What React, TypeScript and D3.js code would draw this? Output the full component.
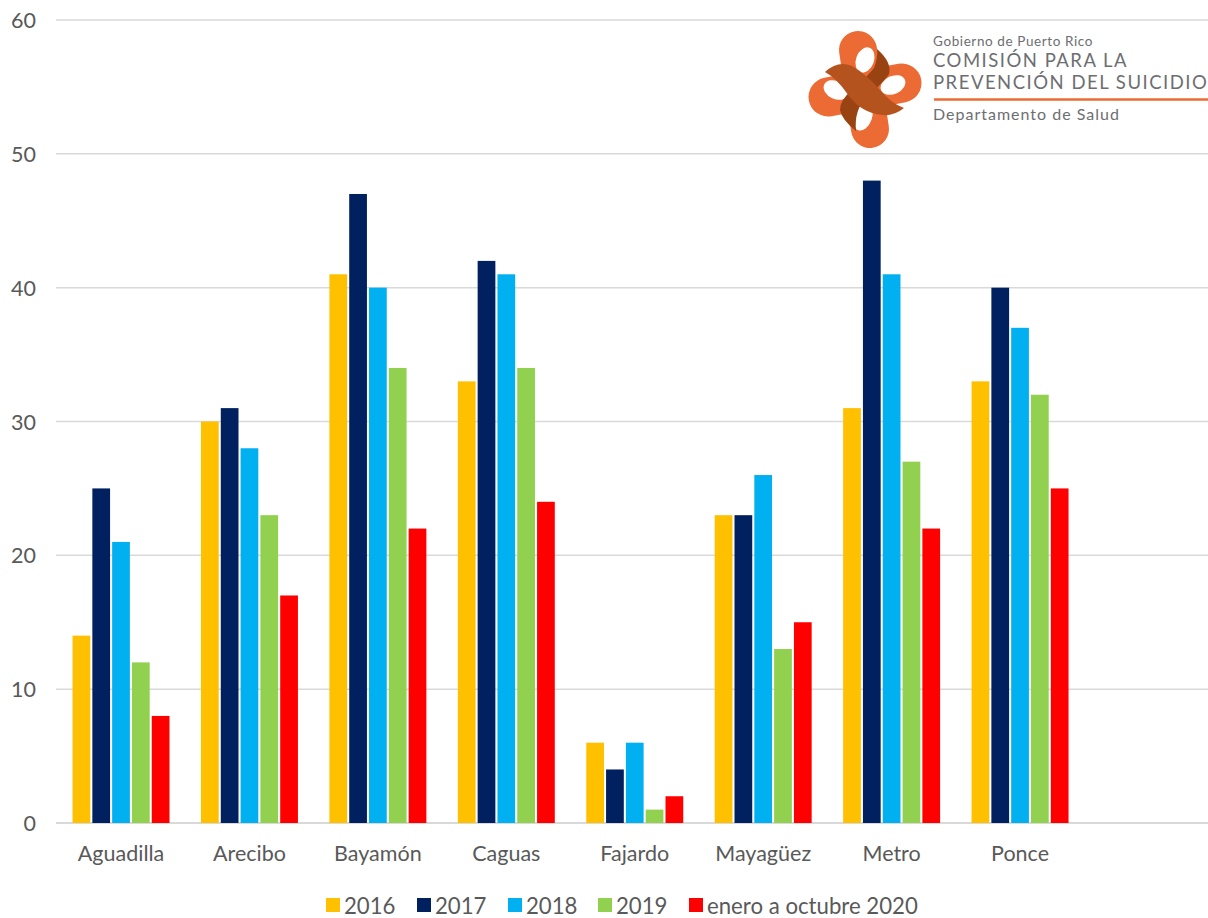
import React from "react";
import * as d3 from "d3";

const categories = ["Aguadilla", "Arecibo", "Bayamón", "Caguas", "Fajardo", "Mayagüez", "Metro", "Ponce", ""];
const seriesNames = ["2016", "2017", "2018", "2019", "enero a octubre 2020"];
const s2016 = [14, 30, 41, 33, 6, 23, 31, 33];
const s2017 = [25, 31, 47, 42, 4, 23, 48, 40];
const s2018 = [21, 28, 40, 41, 6, 26, 41, 37];
const s2019 = [12, 23, 34, 34, 1, 13, 27, 32];
const s2020 = [8, 17, 22, 24, 2, 15, 22, 25];
const seriesValues = [s2016, s2017, s2018, s2019, s2020];
const colors = ["#FFC000", "#002060", "#00B0F0", "#92D050", "#FF0000"];
const yTicks = [0, 10, 20, 30, 40, 50, 60];
const legendX = [326, 417, 508, 598, 689];

const FONT = "Lato, 'Open Sans', sans-serif";
const W = 1208, H = 918;

function Logo() {
  const orange = "#EC6A33", mid = "#B5531F", dark = "#9A4312";
  const arm = (x1: number, y1: number, x2: number, y2: number, c: string, w: number) => (
    <line x1={x1} y1={y1} x2={x2} y2={y2} stroke={c} strokeWidth={w} strokeLinecap="round" />
  );
  return (
    <g>
      {arm(858, 50, 870, 129, orange, 38)}
      {arm(828, 97, 902, 83, orange, 39)}
      <ellipse cx={865} cy={60} rx={9} ry={13} fill="#fff" transform="rotate(20 865 60)" />
      <ellipse cx={863} cy={117} rx={9} ry={14} fill="#fff" transform="rotate(20 863 117)" />
      <ellipse cx={836} cy={90} rx={13} ry={9} fill="#fff" transform="rotate(25 836 90)" />
      <ellipse cx={893} cy={85} rx={13} ry={9} fill="#fff" transform="rotate(-25 893 85)" />
      <path d="M877 49 Q892 62 889 74 Q884 82 866 98 Q854 110 856 131 Q842 120 840 110 Q840 100 852 90 Q868 76 874 68 Q878 58 877 49Z" fill={dark} />
      <path d="M825 72 Q838 60 852 66 Q866 74 880 90 Q892 104 904 108 Q892 118 876 114 Q858 110 846 92 Q836 78 825 72Z" fill={mid} />
      <g fontFamily={FONT} fill="#6D6E71">
        <text x={933} y={46} fontSize={13.5} letterSpacing={0.6}>Gobierno de Puerto Rico</text>
        <text x={933} y={67} fontSize={18.5} letterSpacing={1.5}>COMISIÓN PARA LA</text>
        <text x={933} y={89} fontSize={18.5} letterSpacing={1.5}>PREVENCIÓN DEL SUICIDIO</text>
        <text x={933} y={120} fontSize={16} letterSpacing={1}>Departamento de Salud</text>
      </g>
      <line x1={934} x2={1208} y1={99.5} y2={99.5} stroke={orange} strokeWidth={2.5} />
    </g>
  );
}

export default function App() {
  const x = d3.scaleBand<string>().domain(categories).range([56.8, 1212.7]).paddingInner(0.245).paddingOuter(0.1225);
  const inner = d3.scaleBand<string>().domain(seriesNames).range([0, x.bandwidth()]).paddingInner(0.105);
  const y = d3.scaleLinear().domain([0, 60]).range([823, 20]);

  return (
    <svg width={W} height={H} viewBox={`0 0 ${W} ${H}`} style={{ position: "absolute", left: 0, top: 0, background: "#fff" }}>
      {yTicks.map((t) => (
        <g key={t}>
          <line x1={56} x2={W} y1={y(t)} y2={y(t)} stroke="#D9D9D9" strokeWidth={t === 0 ? 2 : 1.5} />
          <text x={36} y={y(t)} textAnchor="end" dominantBaseline="central" fontFamily={FONT} fontSize={21.5} fill="#595959">{t}</text>
        </g>
      ))}
      {seriesNames.map((name, si) => (
        <g key={name} fill={colors[si]}>
          {seriesValues[si].map((v, ci) => (
            <rect key={ci} x={(x(categories[ci]) as number) + (inner(name) as number)} y={y(v)} width={inner.bandwidth()} height={y(0) - y(v)} />
          ))}
        </g>
      ))}
      {categories.filter(Boolean).map((c) => (
        <text key={c} x={(x(c) as number) + x.bandwidth() / 2} y={853} textAnchor="middle" dominantBaseline="central" fontFamily={FONT} fontSize={21.5} fill="#595959">{c}</text>
      ))}
      {seriesNames.map((name, si) => (
        <g key={name}>
          <rect x={legendX[si]} y={898} width={14} height={14} fill={colors[si]} />
          <text x={legendX[si] + 18} y={905} dominantBaseline="central" fontFamily={FONT} fontSize={22.2} fill="#595959">{name}</text>
        </g>
      ))}
      <Logo />
    </svg>
  );
}
